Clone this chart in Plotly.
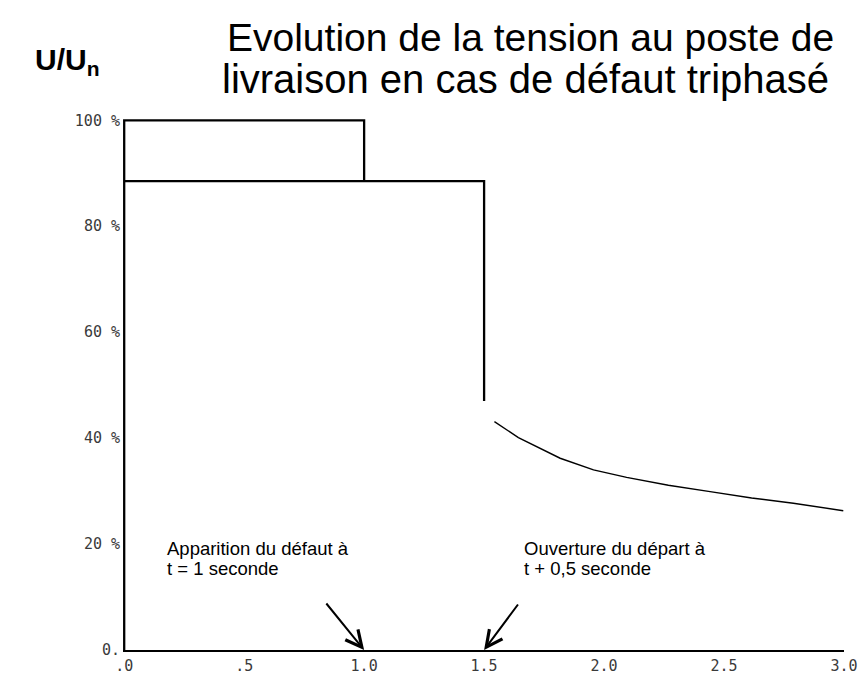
import plotly.graph_objects as go

# ---- data ----
t_prefault = [0, 0, 1.0, 1.0]
u_prefault = [0, 100, 100, 88.5]

t_fault = [0, 1.5, 1.5]
u_fault = [88.5, 88.5, 47]

t_recovery = [1.543, 1.643, 1.817, 1.956, 2.094, 2.268, 2.442, 2.615, 2.789, 2.997]
u_recovery = [43.1, 40.1, 36.2, 34.0, 32.6, 31.1, 29.9, 28.7, 27.7, 26.3]

y_tickvals = [0, 20, 40, 60, 80, 100]
y_ticktext = ["0.", "20 %", "40 %", "60 %", "80 %", "100 %"]
x_tickvals = [0, 0.5, 1.0, 1.5, 2.0, 2.5, 3.0]
x_ticktext = [".0", ".5", "1.0", "1.5", "2.0", "2.5", "3.0"]

title_line1 = "Evolution de la tension au poste de"
title_line2 = "livraison en cas de défaut triphasé"
y_title = "<b>U/U<sub>n</sub></b>"
note_fault = ["Apparition du défaut à", "t = 1 seconde"]
note_open = ["Ouverture du départ à", "t + 0,5 seconde"]

fig = go.Figure()
fig.add_trace(go.Scatter(x=t_prefault, y=u_prefault, mode="lines",
                         line=dict(color="black", width=2.3), hoverinfo="skip"))
fig.add_trace(go.Scatter(x=t_fault, y=u_fault, mode="lines",
                         line=dict(color="black", width=2.3), hoverinfo="skip"))
fig.add_trace(go.Scatter(x=t_recovery, y=u_recovery, mode="lines",
                         line=dict(color="black", width=1.4), hoverinfo="skip"))

# figure fills the whole window (page body margin removed below)
FW, FH = 862, 675
L, R, T, B = 123, 18, 115, 25
H = FH - T - B
W = FW - L - R


def py(sy):
    return (FH - B - sy) / H


def px(sx):
    return (sx - L) / W


tick_font = dict(family="DejaVu Sans Mono, Liberation Mono, monospace", size=15, color="#3a3a3a")
note_font = dict(family="Liberation Sans, Arial", size=18.5, color="black")

annotations = [
    dict(text=title_line1, xref="paper", yref="paper", x=px(530), y=py(37),
         xanchor="center", yanchor="middle", showarrow=False,
         font=dict(family="Liberation Sans, Arial", size=39, color="black")),
    dict(text=title_line2, xref="paper", yref="paper", x=px(525), y=py(79),
         xanchor="center", yanchor="middle", showarrow=False,
         font=dict(family="Liberation Sans, Arial", size=40, color="black")),
    dict(text=y_title, xref="paper", yref="paper", x=px(67), y=py(62),
         xanchor="center", yanchor="middle", showarrow=False,
         font=dict(family="Liberation Sans, Arial", size=30, color="black")),
]
for i, line in enumerate(note_fault):
    annotations.append(dict(text=line, xref="x", yref="paper", x=0.171, y=py(548 + 20 * i),
                            xanchor="left", yanchor="middle", showarrow=False, font=note_font))
for i, line in enumerate(note_open):
    annotations.append(dict(text=line, xref="x", yref="paper", x=1.658, y=py(548 + 20 * i),
                            xanchor="left", yanchor="middle", showarrow=False, font=note_font))
annotations += [
    dict(text="", xref="x", yref="y", x=1.0, y=0, ax=-39, ay=-48,
         showarrow=True, arrowhead=5, arrowsize=1.6, arrowwidth=2,
         arrowcolor="black", standoff=0),
    dict(text="", xref="x", yref="y", x=1.5, y=0, ax=35, ay=-47,
         showarrow=True, arrowhead=5, arrowsize=1.6, arrowwidth=2,
         arrowcolor="black", standoff=0),
]

fig.update_layout(
    width=FW, height=FH,
    margin=dict(l=L, r=R, t=T, b=B, autoexpand=False),
    plot_bgcolor="white", paper_bgcolor="white",
    showlegend=False,
    xaxis=dict(range=[-0.005, 3.0], tickvals=x_tickvals, ticktext=x_ticktext,
               showgrid=False, zeroline=False, showline=True, linecolor="black",
               linewidth=2, ticks="", tickfont=tick_font, ticklabelstandoff=1,
               automargin=False),
    yaxis=dict(range=[0, 101], tickvals=y_tickvals, ticktext=y_ticktext,
               showgrid=False, zeroline=False, showline=False,
               ticks="", tickfont=tick_font, ticklabelstandoff=2,
               automargin=False),
    annotations=annotations,
)

fig.write_html(
    "out.html",
    config={"displayModeBar": False},
    post_script="document.body.style.margin='0';document.body.style.overflow='hidden';",
)
